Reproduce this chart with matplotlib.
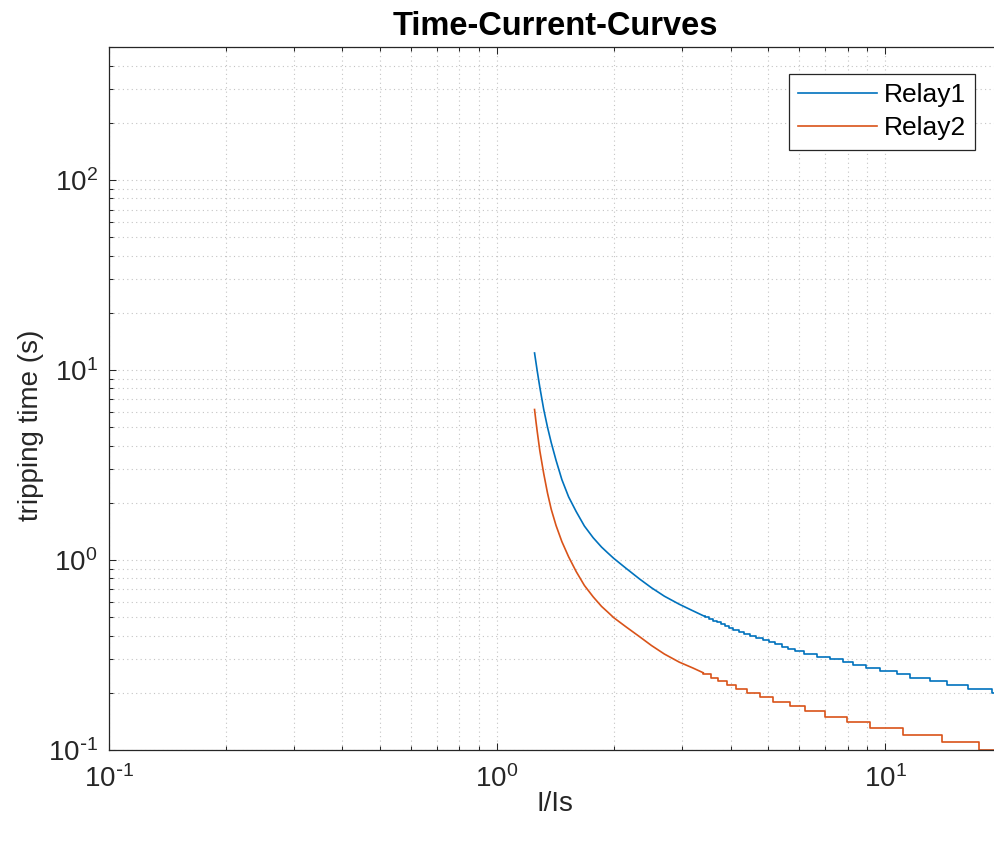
import numpy as np
import matplotlib
matplotlib.use("Agg")
import matplotlib.pyplot as plt
from matplotlib.ticker import LogLocator, NullFormatter, FuncFormatter

plt.rcParams['font.family'] = ['Liberation Sans', 'DejaVu Sans']
plt.rcParams['axes.unicode_minus'] = False

# Relay1 - smooth upper part (I/Is, tripping time in s)
relay1_I = [1.25, 1.27, 1.29, 1.32, 1.35, 1.38, 1.42, 1.47, 1.53, 1.60, 1.68,
            1.77, 1.86, 1.93, 2.00, 2.15, 2.33, 2.50, 2.70, 2.95, 3.20, 3.43]
relay1_t = [12.3, 9.9, 8.1, 6.2, 5.0, 4.15, 3.35, 2.65, 2.15, 1.80, 1.51,
            1.31, 1.17, 1.09, 1.02, 0.905, 0.795, 0.715, 0.645, 0.585, 0.54, 0.505]
# Relay1 - stepped tail (times rounded to 0.01 s)
relay1_step_I = [3.44, 3.515, 3.596, 3.68, 3.769, 3.862, 3.959, 4.06, 4.197, 4.342,
                 4.496, 4.659, 4.833, 5.015, 5.207, 5.411, 5.631, 5.865, 6.175, 6.659,
                 7.197, 7.80, 8.27, 8.93, 9.71, 10.7, 11.6, 13.06, 14.45, 16.3, 18.9, 20.0]
relay1_step_t = [0.50, 0.49, 0.48, 0.47, 0.46, 0.45, 0.44, 0.43, 0.42, 0.41,
                 0.40, 0.39, 0.38, 0.37, 0.36, 0.35, 0.34, 0.33, 0.32, 0.31,
                 0.30, 0.29, 0.28, 0.27, 0.26, 0.25, 0.24, 0.23, 0.22, 0.21, 0.20, 0.20]

# Relay2
relay2_I = [1.25, 1.26, 1.27, 1.29, 1.32, 1.35, 1.38, 1.42, 1.47, 1.53, 1.60, 1.68,
            1.77, 1.86, 1.93, 2.00, 2.15, 2.33, 2.50, 2.70, 2.95, 3.20, 3.40]
relay2_t = [6.2, 5.4, 4.75, 3.75, 2.85, 2.25, 1.85, 1.52, 1.25, 1.04, 0.87, 0.735,
            0.64, 0.57, 0.532, 0.497, 0.445, 0.395, 0.355, 0.32, 0.29, 0.27, 0.255]
relay2_step_I = [3.40, 3.56, 3.72, 3.91, 4.13, 4.42, 4.75, 5.15, 5.69, 6.22,
                 7.01, 7.96, 9.15, 11.15, 14.0, 17.4, 20.0]
relay2_step_t = [0.25, 0.24, 0.23, 0.22, 0.21, 0.20, 0.19, 0.18, 0.17, 0.16,
                 0.15, 0.14, 0.13, 0.12, 0.11, 0.10, 0.10]

c1 = '#0072BD'
c2 = '#D95319'
ink = '#262626'


def pow10(v, pos):
    e = int(round(np.log10(v)))
    if e < 0:
        return r'$\mathdefault{10^{\text{-}%d}}$' % (-e)
    return r'$\mathdefault{10^{%d}}$' % e


fig = plt.figure(figsize=(9.95, 8.41), dpi=100)
ax = fig.add_axes([108.7 / 995, 91 / 841, (1002 - 108.7) / 995, (750 - 47.3) / 841])

ax.plot(relay1_I, relay1_t, color=c1, lw=1.2, label='Relay1')
ax.step([relay1_I[-1]] + relay1_step_I, [relay1_t[-1]] + relay1_step_t, where='post', color=c1, lw=1.2)
ax.plot(relay2_I, relay2_t, color=c2, lw=1.2, label='Relay2')
ax.step([relay2_I[-1]] + relay2_step_I, [relay2_t[-1]] + relay2_step_t, where='post', color=c2, lw=1.2)

ax.set_xscale('log')
ax.set_yscale('log')
ax.set_xlim(0.1, 20)
ax.set_ylim(0.1, 500)

for axis in (ax.xaxis, ax.yaxis):
    axis.set_major_locator(LogLocator(base=10))
    axis.set_minor_locator(LogLocator(base=10, subs=np.arange(2, 10)))
    axis.set_major_formatter(FuncFormatter(pow10))
    axis.set_minor_formatter(NullFormatter())

ax.grid(True, which='both', color='#c4c4c4', lw=0.8, linestyle=(0, (1, 3)))
ax.set_axisbelow(True)

ax.tick_params(which='both', direction='in', top=True, right=False, colors=ink,
               labelsize=20, width=0.75)
ax.tick_params(which='major', length=5)
ax.tick_params(which='minor', length=3)
ax.tick_params(axis='x', which='major', pad=11)
ax.tick_params(axis='y', which='major', pad=8)
for s in ax.spines.values():
    s.set_color(ink)
    s.set_linewidth(0.9)

ax.set_title('Time-Current-Curves', fontsize=23.5, fontweight='bold', color='black', pad=9)
ax.set_xlabel('I/Is', fontsize=20, color=ink)
ax.set_ylabel('tripping time (s)', fontsize=20, color=ink)
ax.yaxis.set_label_coords(-0.072, 0.462)
ax.xaxis.set_label_coords(0.4995, -0.058)

leg = ax.legend(loc='upper right', bbox_to_anchor=(975 / 995, 1 - 74 / 841),
                bbox_transform=fig.transFigure, borderaxespad=0, fontsize=19,
                fancybox=False, framealpha=1, edgecolor=ink, handlelength=3.0,
                borderpad=0.35, labelspacing=0.35, handletextpad=0.25)
leg.get_frame().set_linewidth(0.9)

fig.savefig('out.png', dpi=100)
